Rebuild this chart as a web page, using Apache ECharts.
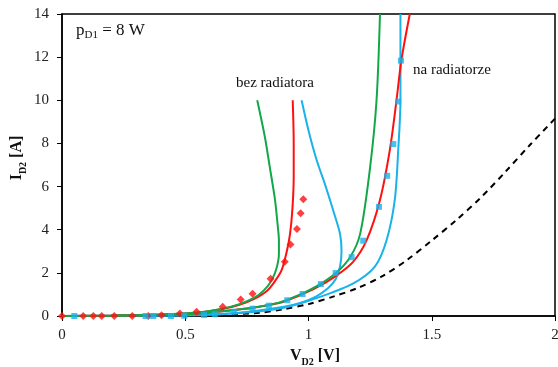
<!DOCTYPE html>
<html>
<head>
<meta charset="utf-8">
<script src="https://cdn.jsdelivr.net/npm/echarts@6/dist/echarts.min.js"></script>
<style>html,body{margin:0;padding:0;background:#fff}#c{width:558px;height:367px}</style>
</head>
<body>
<div id="c"></div>
<script>
// tick labels
var xTicks = [0, 0.5, 1, 1.5, 2];
var yTicks = [0, 2, 4, 6, 8, 10, 12, 14];

// "bez radiatora" curves [V, A]
var greenBez = [[0,0],[0.2,0.02],[0.4,0.07],[0.55,0.16],[0.65,0.34],[0.72,0.55],[0.78,0.85],[0.82,1.2],[0.85,1.65],[0.87,2.2],[0.88,2.9],[0.88,3.5],[0.875,4.2],[0.864,5.4],[0.843,6.9],[0.823,8.3],[0.792,10.0]];
var redBez = [[0,0],[0.2,0.02],[0.4,0.07],[0.55,0.15],[0.65,0.32],[0.72,0.52],[0.78,0.8],[0.83,1.15],[0.86,1.55],[0.89,2.1],[0.91,2.9],[0.925,3.8],[0.935,5.0],[0.94,6.5],[0.94,8.0],[0.936,10.0]];
var blueBez = [[0,0],[0.3,0.01],[0.5,0.04],[0.65,0.1],[0.76,0.2],[0.9,0.43],[0.97,0.62],[1.03,0.9],[1.08,1.3],[1.11,1.7],[1.128,2.3],[1.134,3.0],[1.128,3.8],[1.1,4.9],[1.067,6.1],[1.033,7.23],[1.0,8.6],[0.972,10.0]];

// "na radiatorze" curves
var greenNa = [[0,0],[0.2,0.01],[0.4,0.05],[0.55,0.12],[0.68,0.26],[0.77,0.38],[0.88,0.62],[0.96,0.97],[1.03,1.36],[1.11,1.98],[1.17,2.75],[1.21,3.83],[1.25,6.9],[1.276,10.0],[1.29,14]];
var redNa = [[0,0],[0.2,0.01],[0.4,0.05],[0.55,0.12],[0.68,0.26],[0.77,0.37],[0.88,0.6],[0.96,0.94],[1.03,1.3],[1.11,1.85],[1.18,2.5],[1.236,3.52],[1.29,5.38],[1.33,7.7],[1.357,10.0],[1.377,11.87],[1.411,14]];
var blueNa = [[0,0],[0.4,0.02],[0.6,0.06],[0.76,0.17],[0.9,0.38],[1.03,0.82],[1.18,1.5],[1.27,2.3],[1.317,3.52],[1.35,5.38],[1.364,7.7],[1.373,10.0],[1.373,14]];

// dashed reference curve
var dashed = [[0.6,0.03],[0.8,0.15],[0.9,0.32],[1.0,0.55],[1.1,0.9],[1.2,1.3],[1.3,1.85],[1.4,2.6],[1.5,3.5],[1.6,4.45],[1.7,5.5],[1.8,6.7],[1.9,7.95],[2.0,9.15]];

// measured points
var redPts = [[0,0],[0.086,0],[0.127,0],[0.161,0],[0.212,0],[0.285,0],[0.35,0],[0.404,0.03],[0.478,0.12],[0.546,0.2],[0.652,0.43],[0.725,0.77],[0.773,1.03],[0.846,1.73],[0.904,2.52],[0.927,3.32],[0.953,4.03],[0.968,4.76],[0.979,5.41]];
var bluePts = [[0.05,0],[0.339,0],[0.37,0],[0.442,0],[0.496,0.01],[0.576,0.05],[0.62,0.08],[0.699,0.2],[0.773,0.34],[0.839,0.48],[0.914,0.73],[0.976,1.02],[1.05,1.48],[1.11,1.99],[1.175,2.73],[1.222,3.49],[1.286,5.06],[1.319,6.5],[1.344,7.97],[1.364,9.94],[1.375,11.84]];

var GREEN = '#12a84a', RED = '#ff1010', BLUE = '#19b2ea';
var serif = '"Liberation Serif","Times New Roman",serif';

function line(data, color, dash) {
  return {type:'line', data:data, smooth:0.3, showSymbol:false, symbol:'none', z:2,
    lineStyle:{color:color, width:2, type: dash ? [6,5] : 'solid'}};
}
var nameRich = {
  b:{fontFamily:serif, fontWeight:'bold', fontSize:16, fill:'#111', lineHeight:20, verticalAlign:'bottom'},
  s:{fontFamily:serif, fontWeight:'bold', fontSize:10, fill:'#111', lineHeight:20, verticalAlign:'bottom', padding:[0,0,-3,0]}
};

var chart = echarts.init(document.getElementById('c'), null, {renderer:'canvas'});
chart.setOption({
  animation:false,
  grid:{left:62, right:3, top:14, bottom:51, outerBoundsMode:'none', containLabel:false,
    show:true, borderColor:'#000', borderWidth:1.5},
  xAxis:{type:'value', min:0, max:2, interval:0.5,
    axisLine:{lineStyle:{color:'#000', width:1.5}},
    axisTick:{inside:false, length:5, lineStyle:{color:'#000'}},
    splitLine:{show:false},
    axisLabel:{color:'#222', fontFamily:serif, fontSize:15, margin:12,
      formatter:function(v){ return xTicks.indexOf(v)>=0 ? String(v) : ''; }}
  },
  yAxis:{type:'value', min:0, max:14, interval:2,
    axisLine:{lineStyle:{color:'#000', width:1.5}},
    axisTick:{inside:false, length:5, lineStyle:{color:'#000'}},
    splitLine:{show:false},
    axisLabel:{color:'#222', fontFamily:serif, fontSize:15, margin:13,
      formatter:function(v){ return yTicks.indexOf(v)>=0 ? String(v) : ''; }}
  },
  graphic:[
    {type:'text', x:315, y:354, style:{text:'{b|V}{s|D2}{b| [V]}', rich:nameRich, align:'center', verticalAlign:'middle'}},
    {type:'text', x:15, y:158, rotation:Math.PI/2, style:{text:'{b|I}{s|D2}{b| [A]}', rich:nameRich, align:'center', verticalAlign:'middle'}},
    {type:'text', left:76, top:22, style:{text:'{m|p}{s|D1}{m| = 8 W}', rich:{
      m:{fontFamily:serif, fontSize:17, fill:'#111', lineHeight:22, verticalAlign:'bottom'},
      s:{fontFamily:serif, fontSize:11, fill:'#111', lineHeight:22, verticalAlign:'bottom', padding:[0,0,-2,0]}}}},
    {type:'text', left:236, top:76, style:{text:'bez radiatora', fontFamily:serif, fontSize:15, fill:'#111'}},
    {type:'text', left:413, top:63, style:{text:'na radiatorze', fontFamily:serif, fontSize:15, fill:'#111'}}
  ],
  series:[
    line(dashed, '#000', true),
    line(blueBez, BLUE), line(blueNa, BLUE),
    line(redBez, RED), line(redNa, RED),
    line(greenBez, GREEN), line(greenNa, GREEN),
    {type:'scatter', data:redPts, symbol:'diamond', symbolSize:8, itemStyle:{color:RED}, z:3},
    {type:'scatter', data:bluePts, symbol:'rect', symbolSize:6, itemStyle:{color:BLUE}, z:3}
  ]
});
</script>
</body>
</html>
